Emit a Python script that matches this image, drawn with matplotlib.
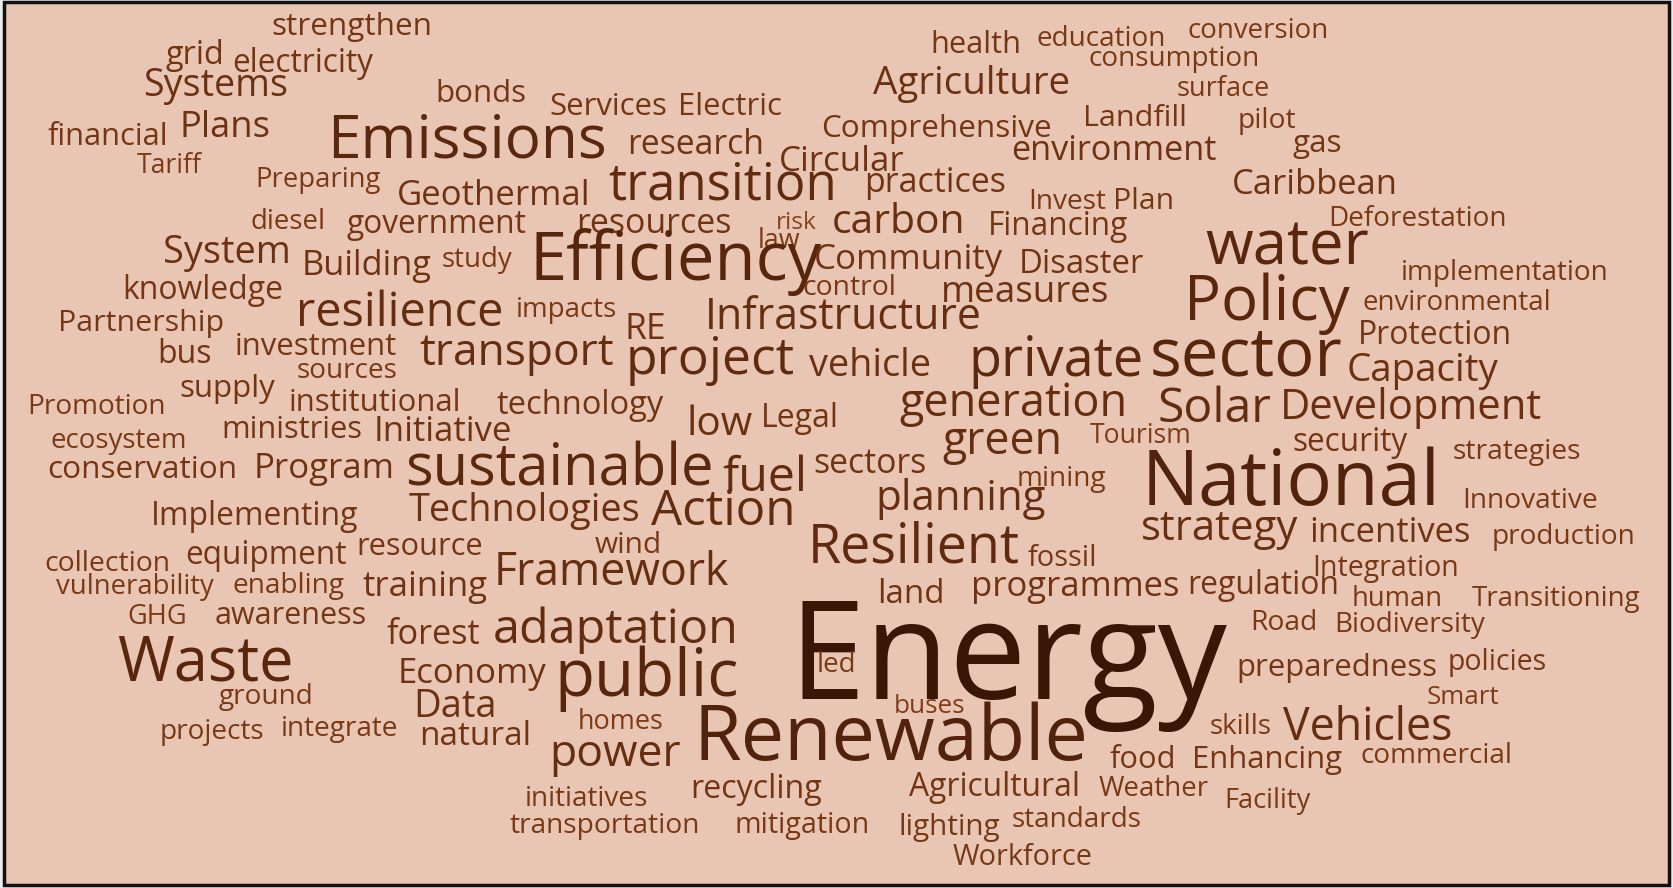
import numpy as np
import matplotlib
matplotlib.use("Agg")
import matplotlib.pyplot as plt
from matplotlib.patches import Rectangle
from matplotlib.colors import to_rgb

# words of the cloud
words = [
    "strengthen", "health", "education", "conversion", "grid", "electricity", "consumption",
    "Systems", "Agriculture", "surface", "bonds", "Services", "Electric", "Landfill", "pilot",
    "Plans", "Emissions", "Comprehensive", "financial", "research", "environment", "gas",
    "Tariff", "Circular", "Preparing", "transition", "practices", "Caribbean", "Geothermal",
    "Invest", "Plan", "diesel", "government", "resources", "risk", "carbon", "Financing",
    "Deforestation", "law", "System", "Building", "study", "Efficiency", "Community",
    "Disaster", "water", "implementation", "knowledge", "control", "measures",
    "environmental", "Policy", "resilience", "impacts", "RE", "Infrastructure", "Partnership",
    "Protection", "bus", "investment", "transport", "project", "vehicle", "private", "sector",
    "Capacity", "sources", "supply", "Promotion", "institutional", "technology", "generation",
    "Solar", "Development", "low", "Legal", "ministries", "Initiative", "Tourism", "ecosystem",
    "green", "security", "strategies", "conservation", "Program", "sustainable", "fuel",
    "sectors", "mining", "National", "planning", "Innovative", "Implementing", "Technologies",
    "Action", "strategy", "incentives", "production", "wind", "resource", "Resilient",
    "fossil", "collection", "equipment", "Framework", "Integration", "vulnerability",
    "enabling", "training", "land", "programmes", "regulation", "human", "Transitioning",
    "GHG", "awareness", "forest", "adaptation", "Road", "Biodiversity", "Energy", "Waste",
    "Economy", "public", "led", "preparedness", "policies", "ground", "Smart", "Data", "buses",
    "projects", "integrate", "homes", "Renewable", "skills", "Vehicles", "natural", "power",
    "food", "Enhancing", "commercial", "initiatives", "recycling", "Agricultural", "Weather",
    "Facility", "transportation", "mitigation", "lighting", "standards", "Workforce",
]

# layout: (left, right, baseline) in a 1568 x 832 frame
layout = [
    (255, 405, 33), (872, 957, 50), (972, 1093, 43), (1113, 1245, 36), (155, 210, 60),
    (218, 350, 67), (1020, 1180, 62), (135, 270, 90), (818, 1003, 88), (1103, 1190, 90),
    (408, 493, 96), (515, 625, 108), (636, 733, 108), (1015, 1112, 118), (1160, 1215, 120),
    (168, 253, 128), (307, 568, 148), (770, 985, 128), (45, 158, 136), (588, 716, 144),
    (947, 1140, 150), (1212, 1258, 142), (128, 189, 162), (730, 848, 160), (240, 357, 175),
    (570, 784, 187), (810, 943, 180), (1155, 1310, 182), (372, 553, 192), (964, 1037, 196),
    (1043, 1100, 196), (235, 305, 215), (325, 493, 218), (540, 685, 218), (727, 765, 215),
    (780, 905, 218), (926, 1057, 220), (1245, 1412, 212), (710, 750, 232), (153, 272, 246),
    (283, 405, 258), (414, 480, 250), (497, 770, 262), (763, 940, 252), (955, 1072, 256),
    (1130, 1283, 248), (1313, 1508, 262), (115, 265, 280), (752, 840, 276), (882, 1040, 283),
    (1277, 1453, 290), (1110, 1265, 300), (278, 472, 305), (483, 578, 297), (585, 624, 318),
    (660, 920, 308), (55, 210, 310), (1273, 1417, 322), (147, 198, 340), (220, 372, 333),
    (393, 575, 342), (587, 745, 350), (758, 872, 352), (908, 1072, 352), (1078, 1258, 352),
    (1262, 1404, 357), (278, 372, 354), (168, 258, 372), (25, 155, 388), (270, 432, 385),
    (466, 622, 388), (843, 1056, 390), (1085, 1192, 395), (1200, 1445, 393), (643, 705, 408),
    (713, 786, 400), (208, 340, 410), (350, 480, 413), (1022, 1117, 415), (47, 175, 420),
    (883, 995, 425), (1211, 1319, 423), (1362, 1482, 430), (45, 222, 448), (238, 370, 448),
    (380, 668, 455), (677, 757, 460), (762, 868, 443), (953, 1037, 455), (1070, 1350, 473),
    (820, 980, 478), (1371, 1498, 476), (142, 336, 492), (384, 600, 488), (610, 745, 492),
    (1070, 1217, 506), (1227, 1378, 508), (1398, 1533, 510), (557, 620, 518), (334, 452, 520),
    (757, 955, 527), (963, 1028, 530), (42, 160, 535), (174, 325, 528), (463, 683, 548),
    (1230, 1367, 540), (52, 200, 557), (218, 323, 556), (340, 457, 558), (822, 885, 565),
    (910, 1105, 558), (1113, 1255, 557), (1267, 1352, 568), (1380, 1537, 568), (119, 175, 585),
    (201, 343, 585), (362, 450, 603), (463, 692, 602), (1172, 1235, 590), (1251, 1392, 592),
    (740, 1150, 655), (110, 275, 638), (373, 512, 640), (520, 693, 652), (765, 802, 630),
    (1159, 1347, 633), (1357, 1450, 628), (205, 294, 660), (1337, 1405, 660), (387, 465, 672),
    (838, 905, 668), (150, 248, 692), (263, 373, 690), (542, 622, 683), (650, 1020, 712),
    (1134, 1192, 688), (1203, 1361, 693), (393, 498, 698), (515, 638, 718), (1040, 1102, 720),
    (1117, 1258, 720), (1275, 1417, 715), (492, 608, 755), (647, 770, 748), (852, 1012, 746),
    (1030, 1133, 746), (1147, 1228, 757), (478, 656, 780), (689, 815, 780), (842, 937, 782),
    (948, 1070, 775), (893, 1024, 810),
]

W, H = 1568, 832
fig = plt.figure(figsize=(16.73, 8.88), dpi=100, facecolor="#ececec")
ax = fig.add_axes([0, 0, 1, 1])
ax.set_xlim(0, W)
ax.set_ylim(H, 0)
ax.axis("off")

ax.add_patch(Rectangle((4, 2), W - 8, H - 5, facecolor="#e9c6b3",
                       edgecolor="#111111", linewidth=2.5, zorder=0))

renderer = fig.canvas.get_renderer()
px_per_unit = fig.get_figwidth() * fig.dpi / W

texts = []
sizes = []
for word, (x0, x1, base) in zip(words, layout):
    t = ax.text((x0 + x1) / 2, base, word, fontsize=20, family="Open Sans",
                ha="center", va="baseline")
    w = t.get_window_extent(renderer).width
    # fit the word to its width
    fs = 20 * (x1 - x0) * px_per_unit / w
    t.set_fontsize(fs)
    texts.append(t)
    sizes.append(fs)

sizes = np.array(sizes)
light = np.array(to_rgb("#8a4219"))
dark = np.array(to_rgb("#3a1606"))
frac = ((sizes - sizes.min()) / (sizes.max() - sizes.min())) ** 0.45
for t, f in zip(texts, frac):
    t.set_color(light * (1 - f) + dark * f)

fig.savefig("out.png", dpi=100, facecolor=fig.get_facecolor())
